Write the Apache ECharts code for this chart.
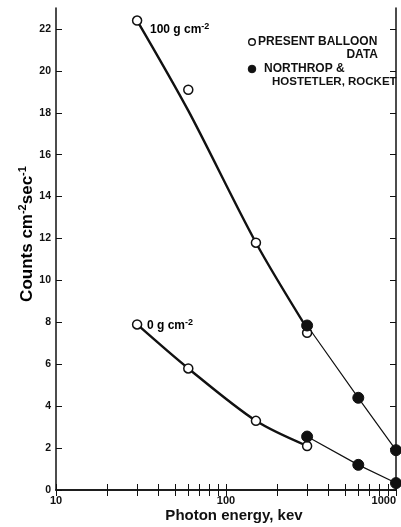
<!DOCTYPE html>
<html><head><meta charset="utf-8">
<script src="https://cdn.jsdelivr.net/npm/echarts@6/dist/echarts.min.js"></script>
<style>html,body{margin:0;padding:0;background:#fff}#c{width:401px;height:527px}</style>
</head><body><div id="c"></div>
<script>
// Energies (keV) and counts (cm^-2 sec^-1)
const balloonE = [30, 60, 150, 300];
const balloon100 = [22.4, 19.1, 11.8, 7.5];
const balloon0 = [7.9, 5.8, 3.3, 2.1];
const rocketE = [300, 600, 1000];
const rocket100 = [7.85, 4.4, 1.9];
const rocket0 = [2.55, 1.2, 0.33];
// fitted (hand-drawn) curves through balloon data
const fitE = [30, 60, 150, 300];
const fit100 = [22.4, 18.1, 11.8, 7.7];
const fit0 = [7.9, 5.8, 3.3, 2.1];
const xTicks = [10,20,30,40,50,60,70,80,90,100,200,300,400,500,600,700,800,900,1000];
const xLabels = [10, 100, 1000];
const yTicks = [0,2,4,6,8,10,12,14,16,18,20,22];

const zip = (a, b) => a.map((v, i) => [v, b[i]]);
const FONT = 'Liberation Sans';
const chart = echarts.init(document.getElementById('c'), null, {renderer: 'canvas'});
const axisLine = {show: true, lineStyle: {color: '#111', width: 1.5}};
const tick = (vals) => ({show: true, inside: true, length: 6, customValues: vals, lineStyle: {color: '#111', width: 1}});
const sup = {fontSize: 9, fontWeight: 'bold', fontFamily: FONT, lineHeight: 9, verticalAlign: 'top', color: '#111'};
chart.setOption({
  animation: false,
  backgroundColor: '#fff',
  grid: {left: 56, right: 5, top: 8, bottom: 37, containLabel: false, outerBoundsMode: 'none'},
  xAxis: [
    {type: 'log', logBase: 10, min: 10, max: 1000, position: 'bottom',
     axisLine, axisTick: tick(xTicks), splitLine: {show: false}, minorTick: {show: false},
     axisLabel: {customValues: xLabels, formatter: (v) => String(Math.round(v)), alignMaxLabel: 'right', color: '#111', fontFamily: FONT, fontWeight: 'bold', fontSize: 11, margin: 5, hideOverlap: false}},
    {type: 'log', logBase: 10, min: 10, max: 1000, position: 'top',
     axisLine, axisTick: tick(xTicks), splitLine: {show: false}, axisLabel: {show: false}}
  ],
  yAxis: [
    {type: 'value', min: 0, max: 23, position: 'left', axisLine, axisTick: tick(yTicks), splitLine: {show: false},
     axisLabel: {customValues: yTicks, color: '#111', fontFamily: FONT, fontWeight: 'bold', fontSize: 10.5, margin: 5}},
    {type: 'value', min: 0, max: 23, position: 'right', axisLine, axisTick: tick(yTicks), splitLine: {show: false}, axisLabel: {show: false}}
  ],
  series: [
    {type: 'line', data: zip(fitE, fit100), smooth: 0.3, symbol: 'none', lineStyle: {color: '#111', width: 2.4}, z: 2},
    {type: 'line', data: zip(fitE, fit0), smooth: 0.3, symbol: 'none', lineStyle: {color: '#111', width: 2.4}, z: 2},
    {type: 'line', data: zip(rocketE, rocket100), symbol: 'none', lineStyle: {color: '#111', width: 1.2}, z: 2},
    {type: 'line', data: zip(rocketE, rocket0), symbol: 'none', lineStyle: {color: '#111', width: 1.2}, z: 2},
    {type: 'scatter', data: zip(balloonE, balloon100).concat(zip(balloonE, balloon0)), symbol: 'circle', symbolSize: 9,
     itemStyle: {color: '#fff', borderColor: '#111', borderWidth: 1.5, opacity: 1}, clip: false, z: 3},
    {type: 'scatter', data: zip(rocketE, rocket100).concat(zip(rocketE, rocket0)), symbol: 'circle', symbolSize: 11,
     itemStyle: {color: '#111', borderColor: '#111', borderWidth: 1, opacity: 1}, clip: false, z: 4}
  ],
  graphic: [
    {type: 'text', x: 234, y: 516, style: {text: 'Photon energy, kev', font: 'bold 15px ' + FONT, fill: '#111', align: 'center', verticalAlign: 'middle'}},
    {type: 'text', x: 27, y: 234, rotation: Math.PI / 2, style: {
      text: '{n|Counts cm}{s|-2}{n|sec}{s|-1}', align: 'center', verticalAlign: 'middle',
      rich: {n: {fontSize: 17, fontWeight: 'bold', fontFamily: FONT, lineHeight: 20, color: '#111'}, s: {fontSize: 11, fontWeight: 'bold', fontFamily: FONT, lineHeight: 11, verticalAlign: 'top', color: '#111'}}}},
    {type: 'text', x: 150, y: 30, style: {text: '{n|100 g cm}{s|-2}', verticalAlign: 'middle',
      rich: {n: {fontSize: 12, fontWeight: 'bold', fontFamily: FONT, lineHeight: 15, color: '#111'}, s: sup}}},
    {type: 'text', x: 147, y: 326, style: {text: '{n|0 g cm}{s|-2}', verticalAlign: 'middle',
      rich: {n: {fontSize: 12, fontWeight: 'bold', fontFamily: FONT, lineHeight: 15, color: '#111'}, s: sup}}},
    {type: 'circle', shape: {cx: 252, cy: 42, r: 3.3}, style: {fill: '#fff', stroke: '#111', lineWidth: 1.4}},
    {type: 'text', x: 258, y: 42, style: {text: 'PRESENT BALLOON', font: 'bold 12px ' + FONT, fill: '#111', verticalAlign: 'middle'}},
    {type: 'text', x: 378, y: 55, style: {text: 'DATA', font: 'bold 12px ' + FONT, fill: '#111', align: 'right', verticalAlign: 'middle'}},
    {type: 'circle', shape: {cx: 252, cy: 69, r: 3.8}, style: {fill: '#111', stroke: '#111', lineWidth: 1}},
    {type: 'text', x: 264, y: 69, style: {text: 'NORTHROP &', font: 'bold 12px ' + FONT, fill: '#111', verticalAlign: 'middle'}},
    {type: 'text', x: 272, y: 82, style: {text: 'HOSTETLER, ROCKET', font: 'bold 11.5px ' + FONT, fill: '#111', verticalAlign: 'middle'}}
  ]
});
</script></body></html>
